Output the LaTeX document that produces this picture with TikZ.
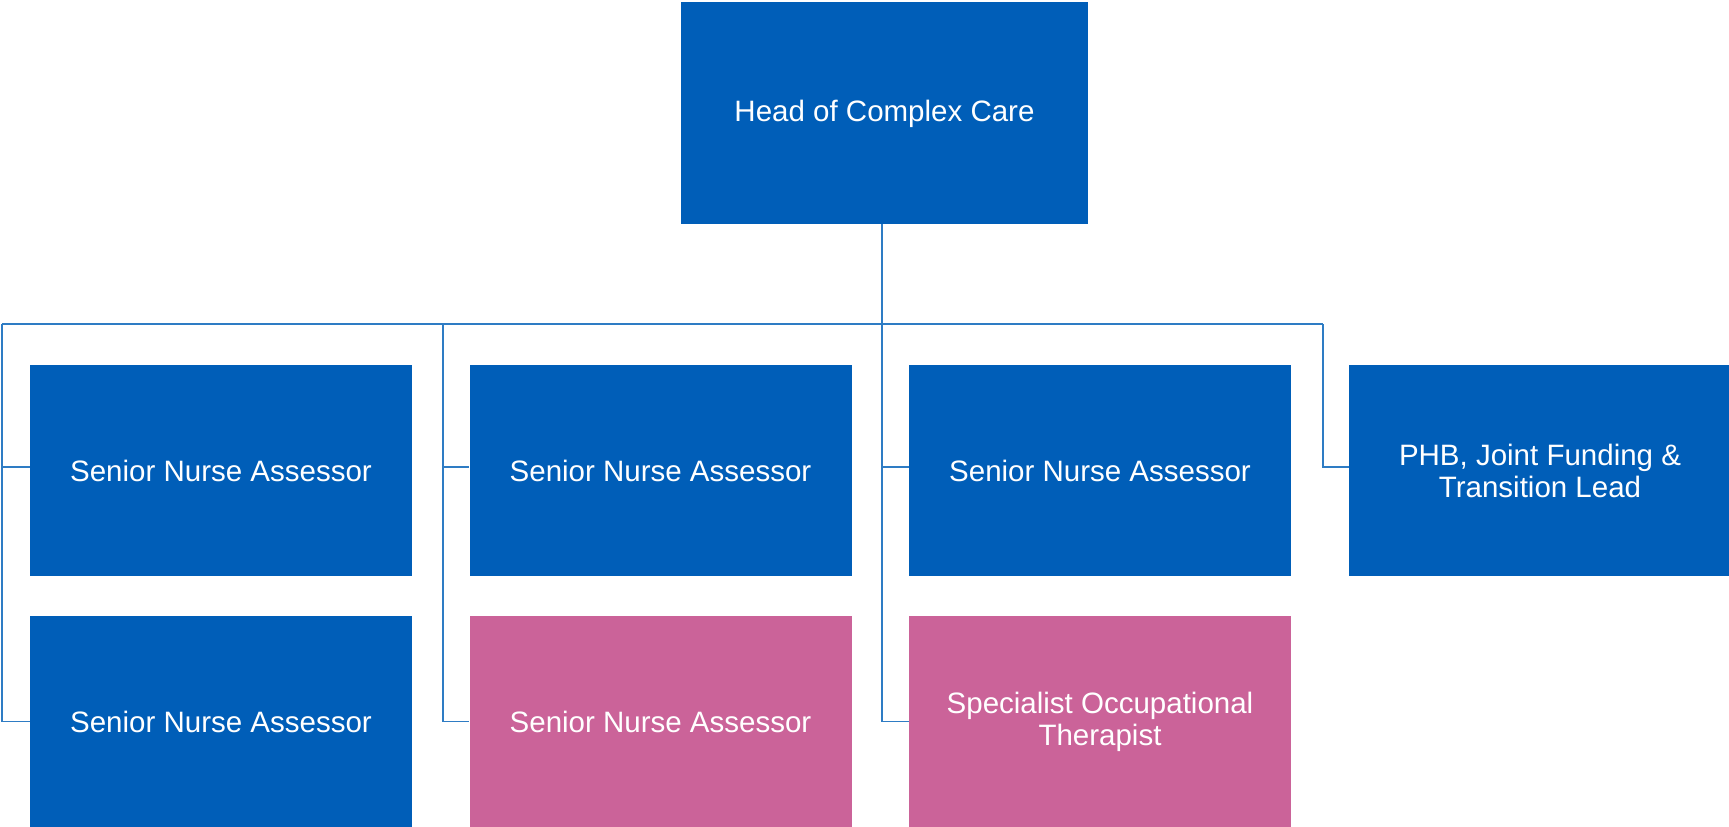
\documentclass[tikz,border=0pt]{standalone}
\usepackage{fontspec}
\setmainfont{Liberation Sans}
\definecolor{nhsblue}{RGB}{0,94,184}
\definecolor{nhspink}{RGB}{203,99,153}
\definecolor{linkblue}{RGB}{46,124,196}
\begin{document}
\begin{tikzpicture}[x=1pt,y=-1pt,
  box/.style={rectangle,inner sep=0pt,minimum width=382pt,minimum height=211pt,
    fill=nhsblue,text=white,align=center,font=\fontsize{29.5}{32}\selectfont},
  pinkbox/.style={box,fill=nhspink},
  link/.style={draw=linkblue,line width=1.2pt}]
\useasboundingbox (0,0) rectangle (1729,827);
\node[box,minimum width=407pt,minimum height=222pt,text depth=4pt] (head) at (884.5,113) {Head of Complex Care};
\node[box] (a1) at (221,470.5) {Senior Nurse Assessor};
\node[box] (a2) at (221,721.5) {Senior Nurse Assessor};
\node[box] (b1) at (660.5,470.5) {Senior Nurse Assessor};
\node[pinkbox] (b2) at (660.5,721.5) {Senior Nurse Assessor};
\node[box] (c1) at (1100,470.5) {Senior Nurse Assessor};
\node[pinkbox] (c2) at (1100,721.5) {Specialist Occupational\\Therapist};
\node[box] (d1) at (1540,470.5) {PHB, Joint Funding \&\\Transition Lead};
\coordinate (ba) at (2,324);
\coordinate (bb) at (443,324);
\coordinate (bc) at (882,324);
\coordinate (bd) at (1323,324);
\draw[link] (bc |- head.south) -- (bc);
\draw[link] (ba) -- (bd);
\draw[link] (ba) |- ([yshift=3.5pt]a1.west);
\draw[link] (ba) |- (a2.west);
\draw[link] (bb) |- ([yshift=3.5pt]b1.west);
\draw[link] (bb) |- (b2.west);
\draw[link] (bc) |- ([yshift=3.5pt]c1.west);
\draw[link] (bc) |- (c2.west);
\draw[link] (bd) |- ([yshift=3.5pt]d1.west);
\end{tikzpicture}
\end{document}
